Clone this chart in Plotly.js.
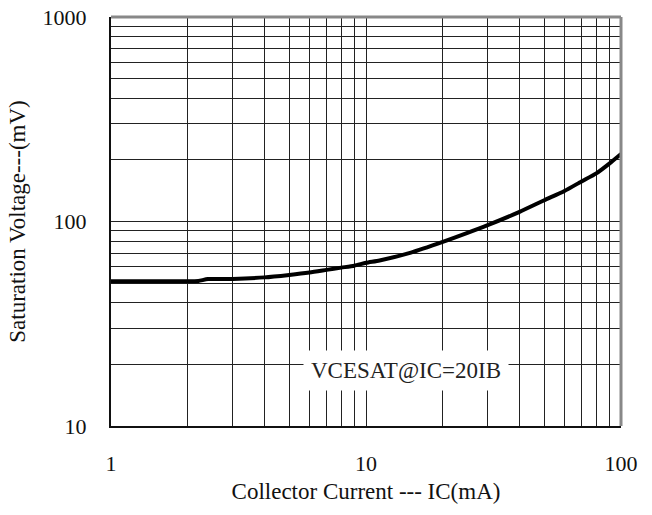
<!DOCTYPE html>
<html>
<head>
<meta charset="utf-8">
<script src="https://cdn.plot.ly/plotly-3.0.1.min.js"></script>
<style>html,body{margin:0;padding:0;background:#fff;}#chart{width:652px;height:515px;}</style>
</head>
<body>
<div id="chart"></div>
<script>
// Collector current (mA)
const currentMA = [1, 1.5, 2, 2.2, 2.4, 3, 4, 5, 6, 7, 8, 9, 10, 11.3, 15, 20, 25, 30, 40, 50, 60, 70, 80, 90, 100];
// Saturation voltage (mV)
const vceSat = [51, 51, 51, 51.2, 52.3, 52.4, 53.3, 54.8, 56.3, 58, 59.5, 60.8, 62.8, 64.5, 70.5, 79.5, 88, 96, 111.5, 127, 141, 157, 172, 192, 214];

const xTickVals = [1,2,3,4,5,6,7,8,9,10,20,30,40,50,60,70,80,90,100];
const xTickText = ['1','','','','','','','','','10','','','','','','','','','100'];
const yTickVals = [10,20,30,40,50,60,70,80,90,100,200,300,400,500,600,700,800,900,1000];
const yTickText = ['10','','','','','','','','','100','','','','','','','','','1000'];

const annotationText = 'VCESAT@IC=20IB';
const xTitle = 'Collector Current --- IC(mA)';
const yTitle = 'Saturation Voltage---(mV)';

const FONT = 'Liberation Serif, Times New Roman, serif';

const trace = {
  x: currentMA, y: vceSat, type: 'scatter', mode: 'lines',
  line: {color: '#000', width: 4, shape: 'spline', smoothing: 0.6},
  hoverinfo: 'skip'
};

const layout = {
  width: 652, height: 515,
  margin: {l: 111, r: 31, t: 17, b: 89},
  paper_bgcolor: '#fff', plot_bgcolor: '#fff',
  showlegend: false,
  font: {family: FONT, size: 22, color: '#000'},
  xaxis: {
    type: 'log', range: [0, 2],
    tickmode: 'array', tickvals: xTickVals, ticktext: xTickText,
    ticks: '', showgrid: true, gridcolor: '#222', gridwidth: 1,
    showline: true, linecolor: '#111', linewidth: 2, mirror: false,
    zeroline: false,
    tickfont: {family: FONT, size: 22, color: '#111'},
    ticklabelstandoff: 17,
    title: {text: xTitle, font: {family: FONT, size: 23, color: '#111'}, standoff: 7}
  },
  yaxis: {
    type: 'log', range: [1, 3],
    tickmode: 'array', tickvals: yTickVals, ticktext: yTickText,
    ticks: '', showgrid: true, gridcolor: '#222', gridwidth: 1,
    showline: true, linecolor: '#111', linewidth: 2, mirror: false,
    zeroline: false,
    tickfont: {family: FONT, size: 22, color: '#111'},
    ticklabelstandoff: 18,
    title: {text: yTitle, font: {family: FONT, size: 23, color: '#111'}, standoff: 11}
  },
  shapes: [
    {type: 'line', xref: 'paper', yref: 'paper', x0: 0, x1: 1, y0: 1, y1: 1, line: {color: '#888', width: 3}},
    {type: 'line', xref: 'paper', yref: 'paper', x0: 1, x1: 1, y0: 0, y1: 1, line: {color: '#888', width: 3}}
  ],
  annotations: [{
    text: annotationText, xref: 'paper', yref: 'paper',
    x: (406 - 111) / 510, y: (426 - 370) / 409, xanchor: 'center', yanchor: 'middle',
    showarrow: false, bgcolor: '#fff', borderpad: 7,
    font: {family: FONT, size: 23, color: '#222'}
  }]
};

Plotly.newPlot('chart', [trace], layout, {staticPlot: true, displayModeBar: false});
</script>
</body>
</html>
